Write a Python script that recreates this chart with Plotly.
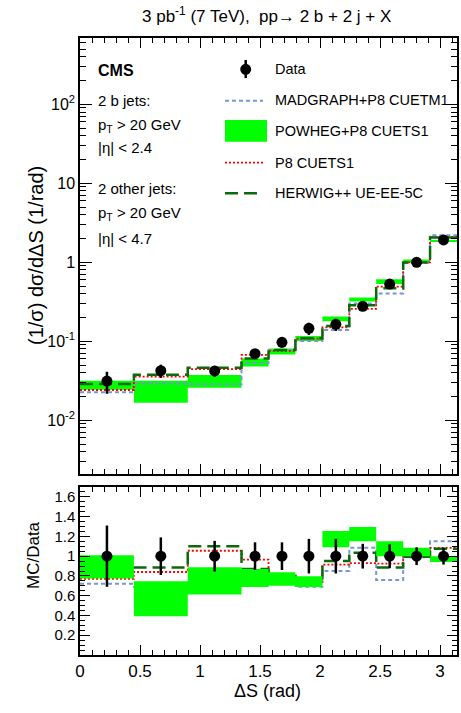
import plotly.graph_objects as go

# ---------------- data ----------------
bin_edges = [0.0, 0.449, 0.898, 1.346, 1.571, 1.795, 2.020, 2.244, 2.468, 2.693, 2.917, 3.1416]
data_y = [0.0314, 0.0425, 0.0422, 0.0697, 0.097, 0.146, 0.164, 0.277, 0.531, 1.0, 1.92]
data_rel_err = [0.31, 0.19, 0.155, 0.14, 0.14, 0.175, 0.175, 0.125, 0.12, 0.09, 0.085]

madgraph_ratio = [0.72, 0.69, 0.68, 0.76, 0.80, 0.69, 0.85, 1.085, 0.76, 0.99, 1.15]
p8_ratio = [0.77, 0.84, 1.055, 0.965, 0.78, 0.74, 0.915, 0.93, 0.925, 1.0, 1.085]
herwig_ratio = [0.92, 0.885, 1.10, 0.87, 0.80, 0.75, 0.95, 1.035, 0.885, 0.995, 1.075]
powheg_lo = [0.773, 0.391, 0.611, 0.689, 0.702, 0.689, 1.091, 1.152, 1.0, 1.0, 0.942]
powheg_hi = [1.01, 0.746, 0.888, 0.871, 0.838, 0.797, 1.254, 1.294, 1.152, 1.085, 1.0]

ytick_vals = [0.01, 0.1, 1, 10, 100]
ytick_text = ["10<sup>-2</sup>", "10<sup>-1</sup>", "1", "10", "10<sup>2</sup>"]
rtick_vals = [0.2, 0.4, 0.6, 0.8, 1.0, 1.2, 1.4, 1.6]
rtick_text = ["0.2", "0.4", "0.6", "0.8", "1", "1.2", "1.4", "1.6"]
xtick_vals = [0, 0.5, 1, 1.5, 2, 2.5, 3]
xtick_text = ["0", "0.5", "1", "1.5", "2", "2.5", "3"]

# ---------------- derived ----------------
centers = [(a + b) / 2 for a, b in zip(bin_edges[:-1], bin_edges[1:])]
nb = len(centers)
mad_abs = [r * d for r, d in zip(madgraph_ratio, data_y)]
p8_abs = [r * d for r, d in zip(p8_ratio, data_y)]
her_abs = [r * d for r, d in zip(herwig_ratio, data_y)]
pw_lo_abs = [r * d for r, d in zip(powheg_lo, data_y)]
pw_hi_abs = [r * d for r, d in zip(powheg_hi, data_y)]
err_abs = [e * d for e, d in zip(data_rel_err, data_y)]

FONT = "Liberation Sans, Arial, Helvetica, sans-serif"
BLUE = "#7896d4"
RED = "#ff0000"
DKGREEN = "#0b6a0b"
LGREEN = "#00ff00"

fig = go.Figure()


def step(vals):
    return list(vals) + [vals[-1]]


def add_band(lo, hi, xa, ya):
    fig.add_trace(go.Scatter(x=bin_edges, y=step(lo), mode="lines", line=dict(width=0, shape="hv"),
                             xaxis=xa, yaxis=ya, showlegend=False, hoverinfo="skip"))
    fig.add_trace(go.Scatter(x=bin_edges, y=step(hi), mode="lines", line=dict(width=0, shape="hv"),
                             fill="tonexty", fillcolor=LGREEN, xaxis=xa, yaxis=ya,
                             showlegend=False, hoverinfo="skip"))


def add_line(vals, color, dash, width, xa, ya):
    fig.add_trace(go.Scatter(x=bin_edges, y=step(vals), mode="lines",
                             line=dict(color=color, dash=dash, width=width, shape="hv"),
                             xaxis=xa, yaxis=ya, showlegend=False, hoverinfo="skip"))


# top panel: band below lines
add_band(pw_lo_abs, pw_hi_abs, "x", "y")
add_line(mad_abs, BLUE, "4px,3px", 2, "x", "y")
add_line(p8_abs, RED, "2px,2px", 1.8, "x", "y")
add_line(her_abs, DKGREEN, "13px,6px", 2.5, "x", "y")
fig.add_trace(go.Scatter(x=centers, y=data_y, mode="markers",
                         marker=dict(color="black", size=11),
                         error_y=dict(type="data", array=err_abs, color="black", thickness=2.5, width=0),
                         xaxis="x", yaxis="y", showlegend=False))

# ratio panel: lines below band
add_line(madgraph_ratio, BLUE, "4px,3px", 2, "x2", "y2")
add_line(p8_ratio, RED, "2px,2px", 1.8, "x2", "y2")
add_line(herwig_ratio, DKGREEN, "13px,6px", 2.5, "x2", "y2")
add_band(powheg_lo, powheg_hi, "x2", "y2")
fig.add_trace(go.Scatter(x=centers, y=[1.0] * nb, mode="markers",
                         marker=dict(color="black", size=11),
                         error_y=dict(type="data", array=data_rel_err, color="black", thickness=2.5, width=0),
                         xaxis="x2", yaxis="y2", showlegend=False))

# ---------------- layout ----------------
L, R, T, B = 80, 457, 38, 655
W, H = 461, 713


def px(x):
    return (x - L) / (R - L)


def py(y):
    return (B - y) / (B - T)


axis_common = dict(showline=True, linecolor="black", linewidth=1.5, mirror="allticks",
                   ticks="inside", tickcolor="black", tickwidth=1.2, showgrid=False, zeroline=False,
                   automargin=False,
                   tickfont=dict(family=FONT, size=16, color="black"))

fig.update_layout(
    width=W, height=H,
    margin=dict(l=L, r=W - R, t=T, b=H - B, autoexpand=False),
    plot_bgcolor="white", paper_bgcolor="white",
    font=dict(family=FONT, color="black"),
    showlegend=False,
    xaxis=dict(domain=[0, 1], range=[0, 3.1416], anchor="y", showticklabels=False,
               tickmode="array", tickvals=xtick_vals, ticklen=10,
               minor=dict(dtick=0.1, tick0=0, ticks="inside", ticklen=5, tickcolor="black"),
               **axis_common),
    yaxis=dict(domain=[py(474), 1], type="log", range=[-2.68, 2.84], anchor="x",
               tickmode="array", tickvals=ytick_vals, ticktext=ytick_text, ticklen=12,
               minor=dict(tickmode="array",
                          tickvals=[k * 10 ** e for e in range(-3, 3) for k in range(2, 10)],
                          ticks="inside", ticklen=6, tickcolor="black"),
               **axis_common),
    xaxis2=dict(domain=[0, 1], range=[0, 3.1416], anchor="y2", matches="x",
                tickmode="array", tickvals=xtick_vals, ticktext=xtick_text, ticklen=10,
                minor=dict(dtick=0.1, tick0=0, ticks="inside", ticklen=5, tickcolor="black"),
                **{**axis_common, "tickfont": dict(family=FONT, size=17, color="black")}),
    yaxis2=dict(domain=[0, py(487)], range=[0, 1.7], anchor="x2",
                tickmode="array", tickvals=rtick_vals, ticktext=rtick_text, ticklen=10,
                minor=dict(dtick=0.05, tick0=0, ticks="inside", ticklen=5, tickcolor="black"),
                **{**axis_common, "tickfont": dict(family=FONT, size=15, color="black")}),
)

ann = []


def text(x, y, s, size, xanchor="left", bold=False, angle=0):
    ann.append(dict(x=px(x), y=py(y), xref="paper", yref="paper", text=("<b>%s</b>" % s) if bold else s,
                    showarrow=False, xanchor=xanchor, yanchor="middle", textangle=angle,
                    font=dict(family=FONT, size=size, color="black")))


text(266, 15, "3 pb<sup>-1</sup> (7 TeV),  pp\u2192 2 b + 2 j + X", 17, xanchor="center")
text(96, 70, "CMS", 16, bold=True)
text(96, 100, "2 b jets:", 15)
text(96, 125, "p<sub>T</sub> > 20 GeV", 15)
text(96, 147, "|\u03b7| < 2.4", 15)
text(96, 188, "2 other jets:", 15)
text(96, 213, "p<sub>T</sub> > 20 GeV", 15)
text(96, 238, "|\u03b7| < 4.7", 15)

# legend
text(273, 69, "Data", 14.5)
text(273, 100, "MADGRAPH+P8 CUETM1", 14.5)
text(273, 131, "POWHEG+P8 CUETS1", 14.5)
text(273, 163, "P8 CUETS1", 14.5)
text(273, 193, "HERWIG++ UE-EE-5C", 14.5)

# axis titles
text(36, 256, "(1/\u03c3) d\u03c3/d\u0394S (1/rad)", 20, xanchor="center", angle=-90)
text(33, 555, "MC/Data", 17, xanchor="center", angle=-90)
text(267, 691, "\u0394S (rad)", 18, xanchor="center")

fig.update_layout(annotations=ann)

shapes = []
# Data legend marker
shapes.append(dict(type="line", xref="paper", yref="paper", x0=px(245.7), x1=px(245.7), y0=py(60), y1=py(78),
                   line=dict(color="black", width=2.5)))
shapes.append(dict(type="circle", xref="paper", yref="paper", x0=px(240.2), x1=px(251.2), y0=py(63.8), y1=py(74.8),
                   fillcolor="black", line=dict(color="black", width=0)))
shapes.append(dict(type="line", xref="paper", yref="paper", x0=px(225), x1=px(263), y0=py(100.7), y1=py(100.7),
                   line=dict(color=BLUE, width=2, dash="4px,3px")))
shapes.append(dict(type="rect", xref="paper", yref="paper", x0=px(225), x1=px(267), y0=py(120), y1=py(141.7),
                   fillcolor=LGREEN, line=dict(width=0)))
shapes.append(dict(type="line", xref="paper", yref="paper", x0=px(225), x1=px(263), y0=py(162.7), y1=py(162.7),
                   line=dict(color=RED, width=1.8, dash="2px,2px")))
shapes.append(dict(type="line", xref="paper", yref="paper", x0=px(225), x1=px(263), y0=py(193.3), y1=py(193.3),
                   line=dict(color=DKGREEN, width=2.5, dash="13px,6px")))
fig.update_layout(shapes=shapes)

fig.write_html("out.html", config={"displayModeBar": False},
               post_script="document.body.style.margin='0';document.body.style.overflow='hidden';")
